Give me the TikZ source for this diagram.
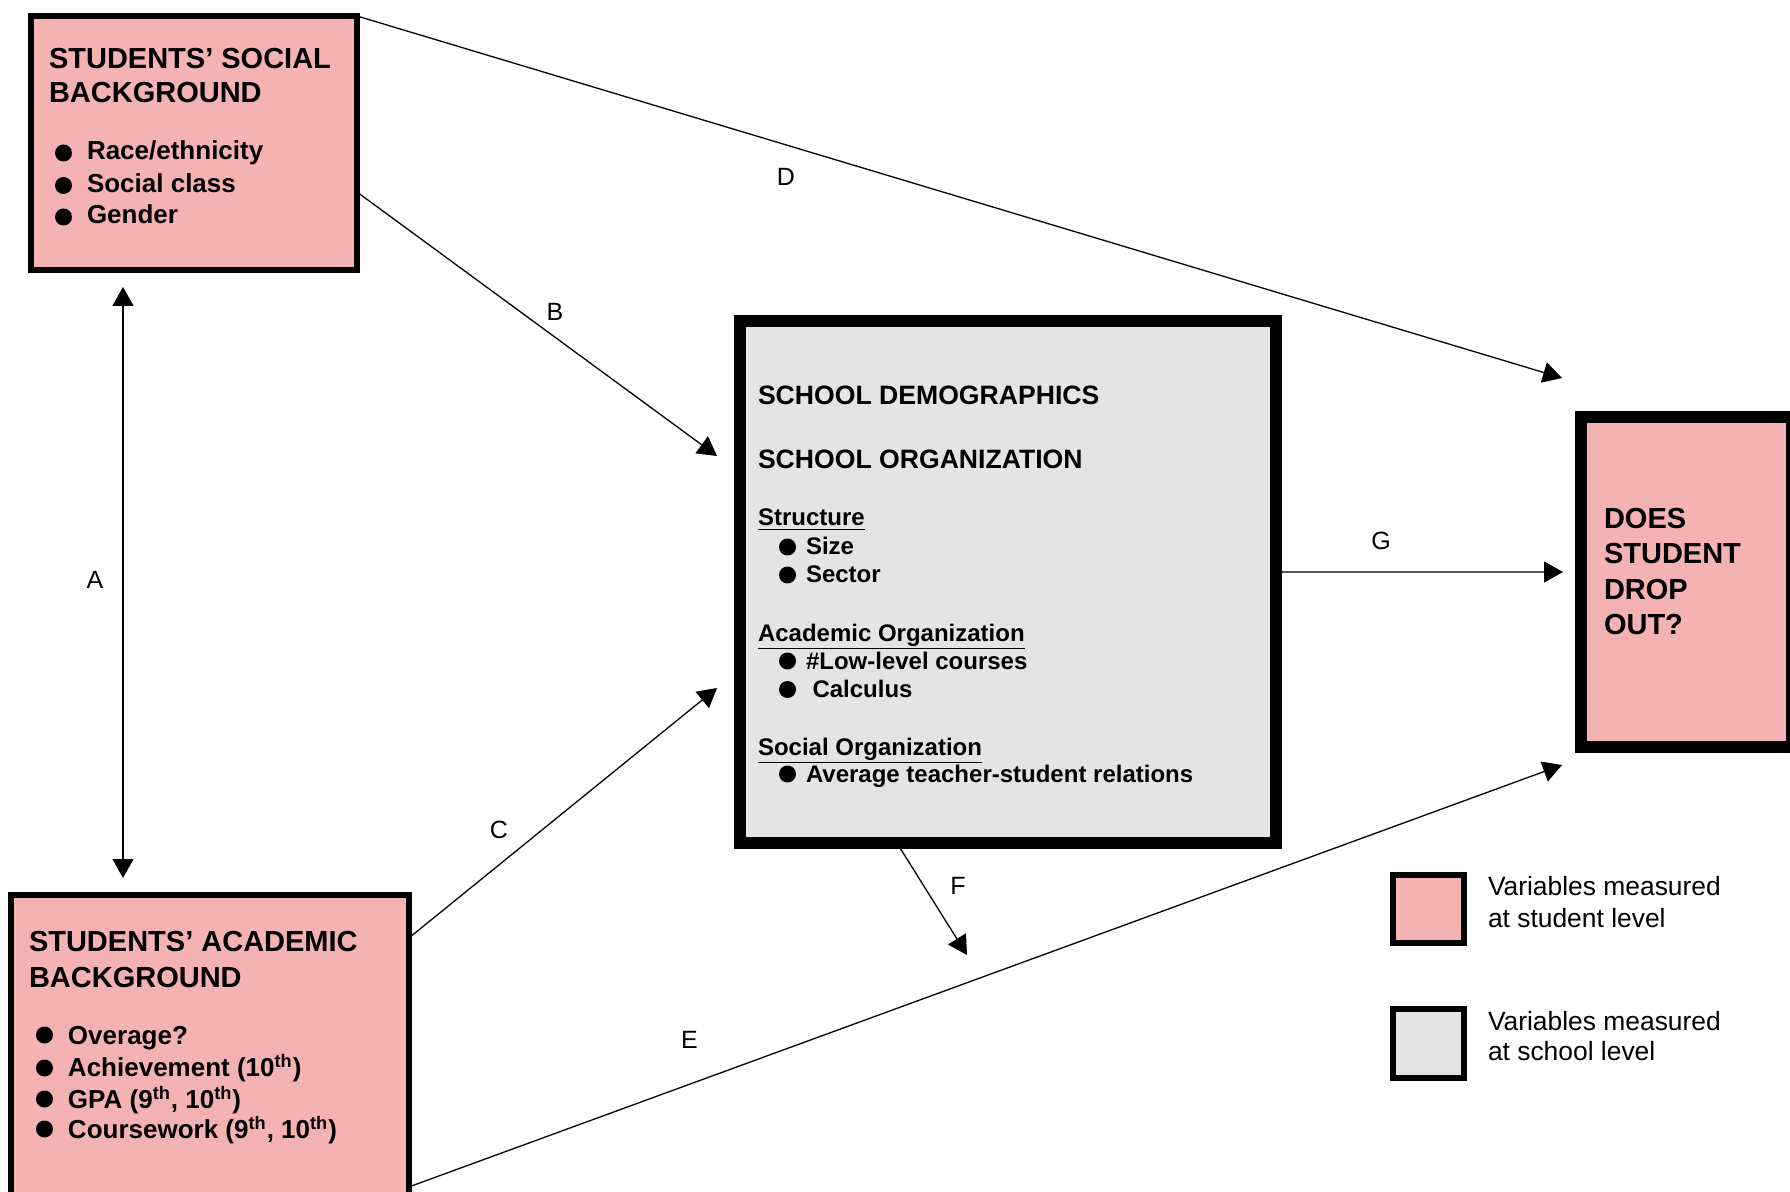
\documentclass[tikz,border=0pt]{standalone}
\usepackage{fontspec}
\setmainfont{Liberation Sans}
\usetikzlibrary{arrows.meta,calc}
\definecolor{pinkfill}{RGB}{244,178,178}
\definecolor{grayfill}{RGB}{228,228,228}
\begin{document}
\begin{tikzpicture}[x=0.5pt,y=-0.5pt,
  pinkbox/.style={draw=black, fill=pinkfill, line width=3pt, inner sep=0pt, outer sep=0pt},
  thickpink/.style={pinkbox, line width=6pt},
  graybox/.style={draw=black, fill=grayfill, line width=6pt, inner sep=0pt, outer sep=0pt},
  legpink/.style={pinkbox, minimum width=35.5pt, minimum height=34pt},
  leggray/.style={graybox, line width=3pt, minimum width=35.5pt, minimum height=34.5pt},
  txt/.style={anchor=base west, inner sep=0pt, outer sep=0pt},
  hd/.style={txt, font=\fontsize{14.5}{17}\selectfont\bfseries},
  itm/.style={txt, font=\fontsize{13}{15}\selectfont\bfseries},
  shd/.style={txt, font=\fontsize{13.3}{16}\selectfont\bfseries},
  sitm/.style={txt, font=\fontsize{12}{14}\selectfont\bfseries},
  legtxt/.style={txt, font=\fontsize{13.2}{15}\selectfont},
  lbl/.style={inner sep=0pt, font=\fontsize{12.5}{15}\selectfont},
  dot/.style={circle, fill=black, inner sep=0pt, minimum size=8.5pt},
  conn/.style={line width=0.65pt, -{Triangle[length=9.5pt,width=10.5pt]}},
  dconn/.style={line width=0.65pt, {Triangle[length=9.5pt,width=10.5pt]}-{Triangle[length=9.5pt,width=10.5pt]}}
]
\useasboundingbox (0,0) rectangle (1790,1192);

% boxes
\node[pinkbox, minimum width=163pt, minimum height=127pt] (social) at (194,143) {};
\node[pinkbox, minimum width=199pt, minimum height=150pt] (academic) at (210,1045) {};
\node[graybox, minimum width=267.8pt, minimum height=261pt] (school) at (1007.8,582) {};
\node[thickpink, minimum width=105.5pt, minimum height=165pt] (drop) at (1686.5,582) {};
\node[legpink] (legA) at (1428.5,909) {};
\node[leggray] (legB) at (1428.5,1043.5) {};

% social box text
\node[hd] (s1) at (49,69) {STUDENTS’ SOCIAL};
\node[hd] (s2) at (49,103) {BACKGROUND};
\node[dot] (sd1) at (63.5,153) {};
\node[dot] (sd2) at (63.5,185.5) {};
\node[dot] (sd3) at (63.5,217) {};
\node[itm] (si1) at (87,160) {Race/ethnicity};
\node[itm] (si2) at (87,192.5) {Social class};
\node[itm] (si3) at (87,224) {Gender};

% academic box text
\node[hd] (a1) at (29,951) {STUDENTS’ ACADEMIC};
\node[hd] (a2) at (29,987) {BACKGROUND};
\node[dot] (ad1) at (44.5,1035) {};
\node[dot] (ad2) at (44.5,1068) {};
\node[dot] (ad3) at (44.5,1099) {};
\node[dot] (ad4) at (44.5,1129) {};
\node[itm] (ai1) at (68,1044) {Overage?};
\node[itm] (ai2) at (68,1076) {Achievement (10\textsuperscript{th})};
\node[itm] (ai3) at (68,1108) {GPA (9\textsuperscript{th}, 10\textsuperscript{th})};
\node[itm] (ai4) at (68,1138) {Coursework (9\textsuperscript{th}, 10\textsuperscript{th})};

% school box text
\node[shd] (c1) at (758,405) {SCHOOL DEMOGRAPHICS};
\node[shd] (c2) at (758,469) {SCHOOL ORGANIZATION};
\node[sitm] (c3) at (758,526) {\underline{Structure}};
\node[dot] (cd1) at (787.5,547) {};
\node[sitm] (c4) at (806,555) {Size};
\node[dot] (cd2) at (787.5,575) {};
\node[sitm] (c5) at (806,583) {Sector};
\node[sitm] (c6) at (758,641) {\underline{Academic Organization}};
\node[dot] (cd3) at (787.5,661) {};
\node[sitm] (c7) at (806,669) {\#Low-level courses};
\node[dot] (cd4) at (787.5,689.5) {};
\node[sitm] (c8) at (812.5,697.5) {Calculus};
\node[sitm] (c9) at (758,755) {\underline{Social Organization}};
\node[dot] (cd5) at (787.5,774) {};
\node[sitm] (c10) at (806,782) {Average teacher-student relations};

% dropout text
\node[hd] (d1) at (1604,529) {DOES};
\node[hd] (d2) at (1604,564) {STUDENT};
\node[hd] (d3) at (1604,600) {DROP};
\node[hd] (d4) at (1604,635) {OUT?};

% legend text
\node[legtxt] (l1) at (1488,895) {Variables measured};
\node[legtxt] (l2) at (1488,927) {at student level};
\node[legtxt] (l3) at (1488,1030) {Variables measured};
\node[legtxt] (l4) at (1488,1060) {at school level};

% connector end points
\coordinate (tA1) at (123,287);
\coordinate (tA2) at (123,878);
\coordinate (tB) at (717,456);
\coordinate (tC) at (717,688);
\coordinate (tD) at (1562,378);
\coordinate (tE) at (1562,765);
\coordinate (tF) at (967,955);
\coordinate (tG) at (1563,572);

% connectors
\draw[dconn] (tA1) -- (tA2);
\draw[conn] ($(social.north east)!0.693!(social.south east)$) -- (tB);
\draw[conn] ($(academic.north east)!0.143!(academic.south east)$) -- (tC);
\draw[conn] (social.north east) -- (tD);
\draw[conn] ($(academic.north east)!0.973!(academic.south east)$) -- (tE);
\draw[conn] ($(school.south west)!0.293!(school.south east)$) -- (tF);
\draw[conn] ($(school.north east)!0.481!(school.south east)$) -- (tG);

% labels
\node[lbl] (LA) at (95,580) {A};
\node[lbl] (LB) at (555,312) {B};
\node[lbl] (LC) at (499,830) {C};
\node[lbl] (LD) at (786,177) {D};
\node[lbl] (LE) at (689.5,1040) {E};
\node[lbl] (LF) at (958,886) {F};
\node[lbl] (LG) at (1381,541) {G};
\end{tikzpicture}
\end{document}
